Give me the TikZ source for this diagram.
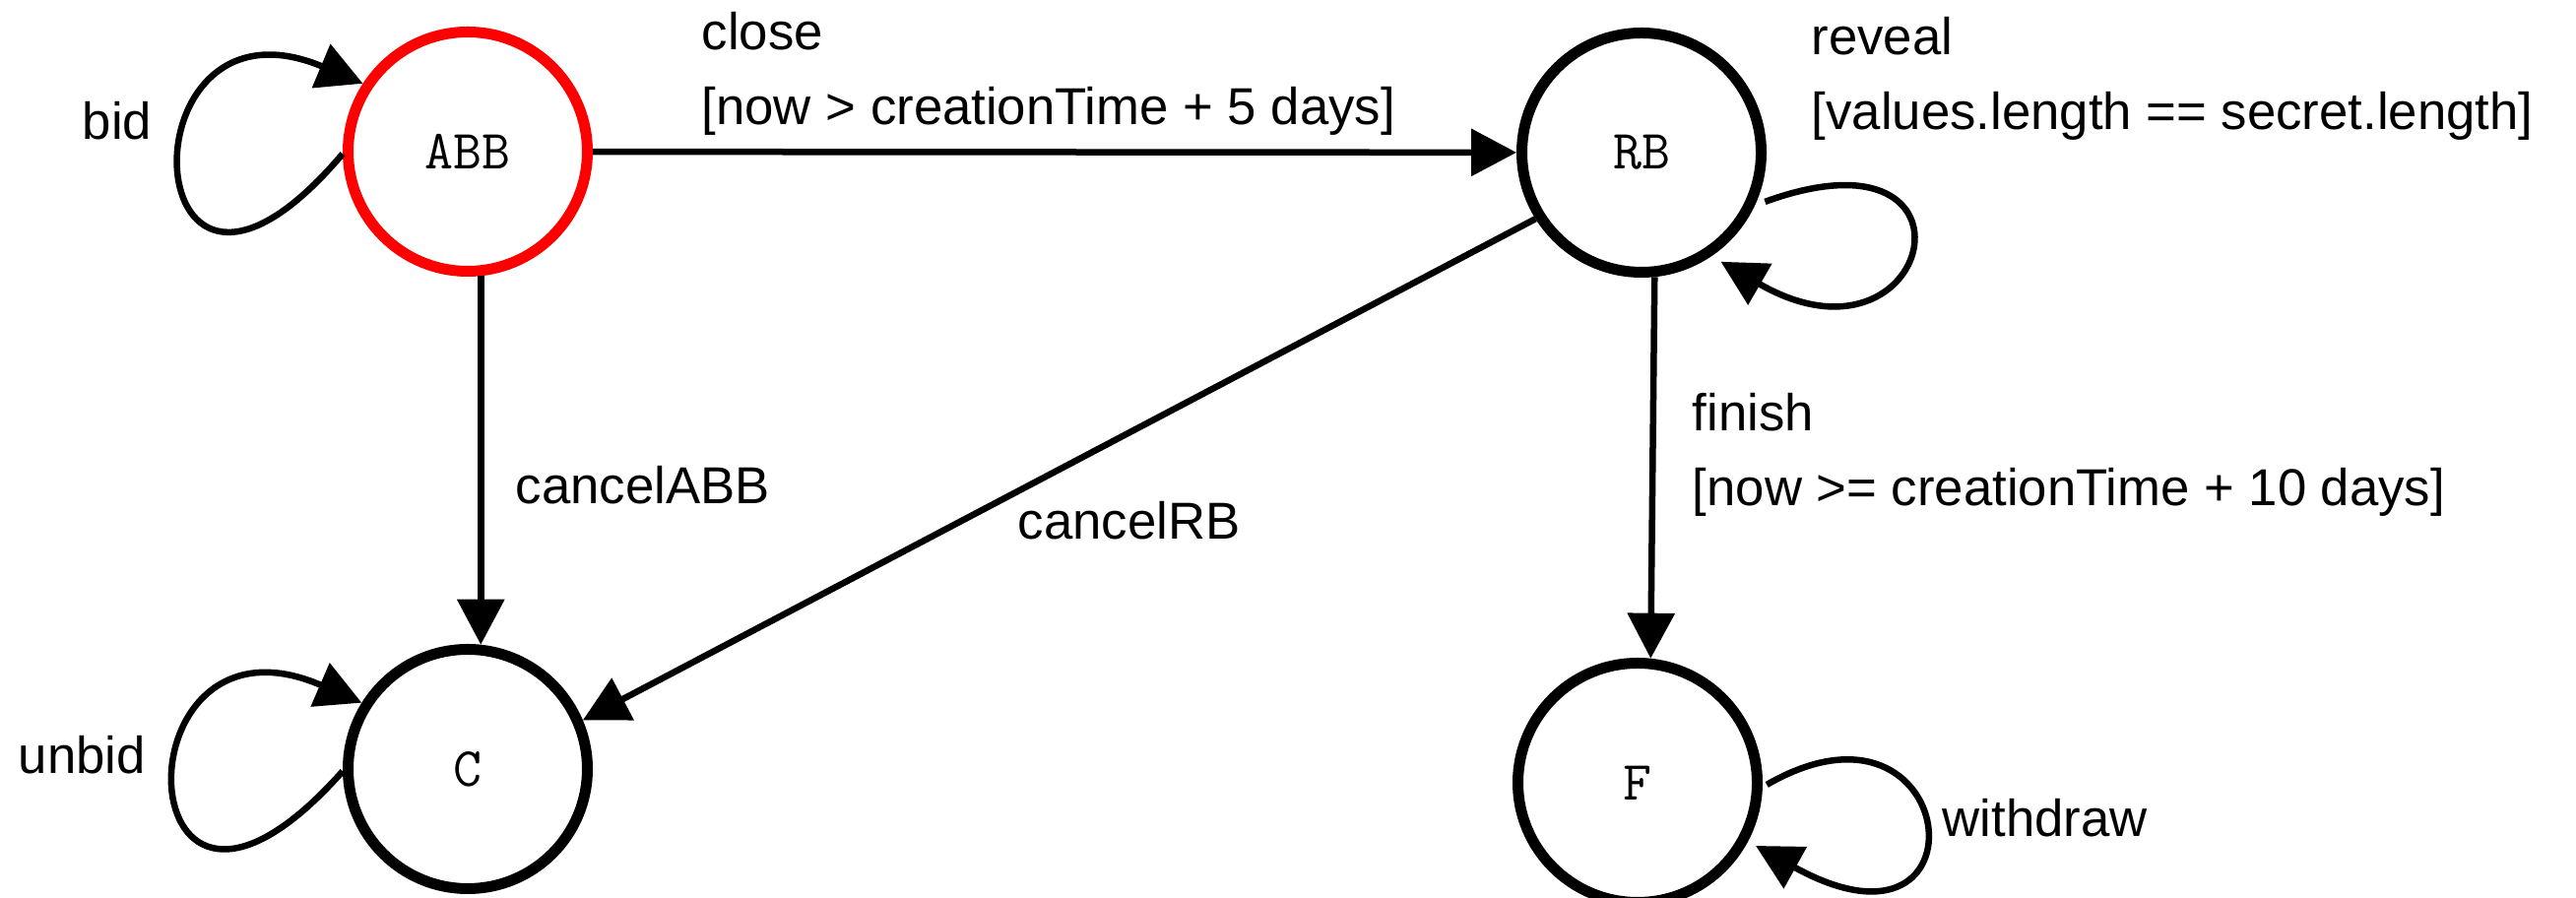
\documentclass[tikz,border=0pt]{standalone}
\usepackage{fontspec}
\setmainfont{Liberation Sans}
\usetikzlibrary{arrows.meta}

\begin{document}
\begin{tikzpicture}[x=.1mm,y=.1mm,>={Triangle[length=4.6mm,width=4.7mm]},
  font=\fontsize{15}{21.5}\selectfont,
  state/.style={circle,draw,line width=1.1mm,minimum size=24.3mm,inner sep=0pt,
    font=\ttfamily\fontsize{16}{16}\selectfont},
  edge/.style={->,line width=.65mm},
  lbl/.style={inner sep=0pt,align=left,anchor=north west}]
\useasboundingbox (0,0) rectangle (2616,912);
\node[state,draw=red] (ABB) at (475,758) {ABB};
\node[state] (RB) at (1667,757) {RB};
\node[state] (C) at (475,131) {C};
\node[state] (F) at (1663,117) {F};

\draw[edge] (ABB) -- (RB);
\draw[edge] (ABB.-84) -- (C.84);
\draw[edge] (RB.212) -- (C.23);
\draw[edge] (RB.-84) -- (F.84);
\draw[edge] (ABB.181) .. controls +(-212,-250) and +(-250,105) .. (ABB.147);
\draw[edge] (C.181) .. controls +(-222,-250) and +(-254,110) .. (C.148);
\draw[edge,shorten <=1.1mm,shorten >=1.1mm] (RB.-25) .. controls +(20:260) and +(-30:260) .. (RB.-56);
\draw[edge,shorten <=.5mm,shorten >=.9mm] (F.-2) .. controls +(30:233) and +(-29:285) .. (F.-28);

\node[lbl] (closeLbl) at (712,900) {close\\{[}now > creationTime + 5 days]};
\node[lbl] (revealLbl) at (1839,895) {reveal\\{[}values.length == secret.length]};
\node[lbl] (finishLbl) at (1718,513) {finish\\{[}now >= creationTime + 10 days]};
\node[lbl,anchor=base west] (cancelABBLbl) at (523,400) {cancelABB};
\node[lbl,anchor=base west] (cancelRBLbl) at (1033,364) {cancelRB};
\node[lbl,anchor=base west] (bidLbl) at (83,770) {bid};
\node[lbl,anchor=base west] (unbidLbl) at (18,126) {unbid};
\node[lbl,anchor=base west] (withdrawLbl) at (1972,62) {withdraw};
\end{tikzpicture}
\end{document}
